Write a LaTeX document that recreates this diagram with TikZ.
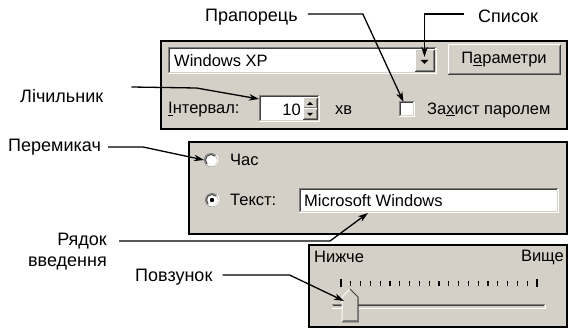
\documentclass[tikz,border=0pt]{standalone}
\usepackage{fontspec}
\setmainfont{Liberation Sans}
\usetikzlibrary{arrows,arrows.meta,calc,positioning}
\definecolor{winface}{HTML}{D4D0C8}
\definecolor{winshadow}{HTML}{808080}
\definecolor{windark}{HTML}{404040}
\tikzstyle{arrow} = [line width=1.3pt,->,>={Stealth[length=10pt,width=6.5pt,inset=3pt]}]
\tikzstyle{panel} = [draw=black,line width=2pt,fill=winface]
\tikzstyle{lbl} = [font=\fontsize{18}{21}\selectfont,inner sep=0pt]
\tikzstyle{ui} = [font=\fontsize{16.5}{18}\selectfont,inner sep=0pt]
\tikzstyle{box} = [inner sep=0pt,outer sep=0pt,anchor=north west]
\tikzstyle{edge} = [line width=1pt]
% 3d borders of the controls
\newcommand{\sunken}[1]{%
  \draw[edge,winshadow] (#1.south west) -- (#1.north west) -- (#1.north east);
  \draw[edge,white] (#1.south west) -- (#1.south east) -- (#1.north east);
  \draw[edge,windark] ([shift={(1pt,1pt)}]#1.south west) -- ([shift={(1pt,-1pt)}]#1.north west) -- ([shift={(-1pt,-1pt)}]#1.north east);
  \draw[edge,winface] ([shift={(1pt,1pt)}]#1.south west) -- ([shift={(-1pt,1pt)}]#1.south east) -- ([shift={(-1pt,-1pt)}]#1.north east);
}
\newcommand{\raised}[1]{%
  \draw[edge,white] (#1.south west) -- (#1.north west) -- (#1.north east);
  \draw[edge,windark] (#1.south west) -- (#1.south east) -- (#1.north east);
  \draw[edge,winshadow] ([shift={(1pt,1pt)}]#1.south west) -- ([shift={(-1pt,1pt)}]#1.south east) -- ([shift={(-1pt,-1pt)}]#1.north east);
}

\begin{document}
\begin{tikzpicture}[x=1pt,y=-1pt]
\useasboundingbox (0,0) rectangle (571,328);

% panels
\draw[panel] (161,41) rectangle (567,129);
\draw[panel] (189,142) rectangle (567,234);
\draw[panel] (309,245) rectangle (567,327);

% list, button
\node[box,fill=white,minimum width=268pt,minimum height=26pt] (combo) at (168,48) {};
\sunken{combo}
\node[ui,anchor=west] (combotxt) at (174,61) {Windows XP};
\node[box,fill=winface,minimum width=19pt,minimum height=22pt] (drop) at (415,50) {};
\raised{drop}
\fill ($(drop.center)+(-4,-1)$) -- ++(8,0) -- ++(-4,4) -- cycle;
\node[box,fill=winface,minimum width=112pt,minimum height=30pt] (params) at (448,45) {};
\raised{params}
\node[ui] (paramstxt) at (params.center) {П\underline{а}раметри};

% counter, check box
\node[ui,anchor=west] (interval) at (168,110) {\underline{І}нтервал:};
\node[box,fill=white,minimum width=60pt,minimum height=26pt] (spin) at (259,96) {};
\sunken{spin}
\node[ui,anchor=east] (spintxt) at (301,110) {10};
\node[box,fill=winface,minimum width=14pt,minimum height=11pt] (spinup) at (303,98) {};
\raised{spinup}
\node[box,fill=winface,minimum width=14pt,minimum height=11pt] (spindown) at (303,109) {};
\raised{spindown}
\fill ($(spinup.center)+(-3,1.5)$) -- ++(6,0) -- ++(-3,-3) -- cycle;
\fill ($(spindown.center)+(-3,-1.5)$) -- ++(6,0) -- ++(-3,3) -- cycle;
\node[ui,anchor=west] (mins) at (335,110) {хв};
\node[box,fill=white,minimum width=15pt,minimum height=15pt] (chk) at (399,102) {};
\sunken{chk}
\node[ui,anchor=west] (chktxt) at (427,110) {За\underline{х}ист паролем};

% radio buttons, text field
\node[circle,draw=winshadow,edge,fill=white,minimum size=13pt,inner sep=0pt] (rad1) at (211,160) {};
\draw[edge,white] (rad1.45) arc (-45:135:6.5);
\draw[edge,windark] ([shift={(135:5.5)}]rad1.center) arc (135:315:5.5);
\node[ui,anchor=west] (rad1txt) at (230,160) {Час};
\node[circle,draw=winshadow,edge,fill=white,minimum size=13pt,inner sep=0pt] (rad2) at (212,200) {};
\draw[edge,white] (rad2.45) arc (-45:135:6.5);
\draw[edge,windark] ([shift={(135:5.5)}]rad2.center) arc (135:315:5.5);
\fill (rad2.center) circle (2.2);
\node[ui,anchor=west] (rad2txt) at (230,200) {Текст:};
\node[box,fill=white,minimum width=259pt,minimum height=24pt] (txt) at (299,189) {};
\sunken{txt}
\node[ui,anchor=west] (txttxt) at (304,201) {Microsoft Windows};

% slider
\node[ui,anchor=west] (low) at (314,257) {Нижче};
\node[ui,anchor=east] (high) at (564,257) {Вище};
\foreach \i in {0,...,20} {
\draw[line width=1.2pt] (341+\i*9.8,281) -- (341+\i*9.8,286);
}
\draw[line width=1.2pt] (341,279) -- (341,287);
\draw[line width=1.2pt] (537,279) -- (537,287);
\draw[edge,winshadow] (332,305) -- (545,305);
\draw[edge,windark] (333,306) -- (544,306);
\draw[edge,white] (332,309) -- (545,309) -- (545,305);
\fill[winface] (342,297) -- (350,289) -- (358,297) -- (358,322) -- (342,322) -- cycle;
\draw[edge,white] (342,322) -- (342,297) -- (350,289);
\draw[edge,windark] (350,289) -- (358,297) -- (358,322) -- (342,322);
\draw[edge,winshadow] (357,298) -- (357,321) -- (343,321);
\coordinate (knob) at (344,301);

% labels
\node[lbl,anchor=west] (flag) at (205,17) {Прапорець};
\node[lbl,anchor=west] (list) at (478,16) {Список};
\node[lbl,anchor=west] (cnt) at (20,96) {Лічильник};
\node[lbl,anchor=west] (swi) at (8,147) {Перемикач};
\node[lbl,anchor=east,align=right] (inp) at (107,252) {Рядок\\введення};
\node[lbl,anchor=west] (sld) at (135,277) {Повзунок};

% connectors
\draw[arrow] ([xshift=10pt,yshift=3pt]flag.east) -- ++(55,0) -- ([xshift=-3pt]chk.north);
\draw[arrow] ([xshift=-14pt,yshift=2pt]list.west) -| ([yshift=4pt]drop.center);
\draw[arrow] ([xshift=28pt,yshift=9pt]cnt.east) -- ++(65,1) -- ([yshift=-3pt]spin.north west);
\draw[arrow] ([xshift=7pt]swi.east) -- ++(35,0) -- (rad1.west);
\draw[arrow] ([xshift=12pt,yshift=11pt]inp.east) -- ++(211,0) -- ([xshift=69pt]txt.south west);
\draw[arrow] ([xshift=10pt,yshift=2pt]sld.east) -- ++(67,0) -- (knob);
\end{tikzpicture}
\end{document}
